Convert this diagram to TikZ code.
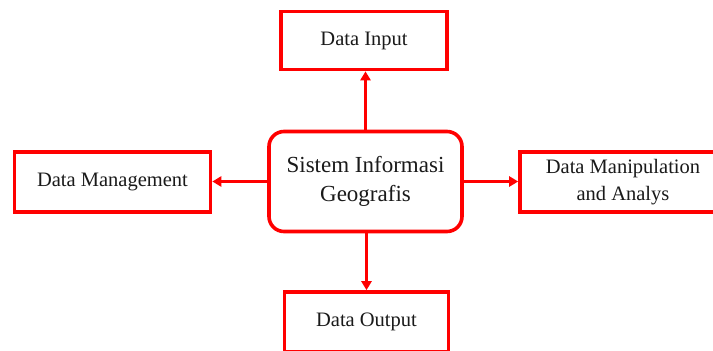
\documentclass[tikz,border=0pt]{standalone}
\usepackage{fontspec}
\setmainfont{Liberation Serif}
\usetikzlibrary{arrows.meta}
\definecolor{boxred}{HTML}{FF0000}
\definecolor{txt}{HTML}{1A1A1A}
\begin{document}
\begin{tikzpicture}[x=1pt,y=-1pt,
  sbox/.style={draw=boxred, line width=3.6pt, fill=white, text=txt, align=center, inner sep=0pt, font=\fontsize{20.5}{27}\selectfont},
  conn/.style={draw=boxred, line width=3pt, -{Triangle[length=9pt,width=10pt]}}]
\useasboundingbox (0,0) rectangle (713,351);
\begin{scope}
\clip (0,0) rectangle (713,351);
\node[sbox, minimum width=166pt, minimum height=58pt] (in) at (364,40.5) {Data Input};
\node[sbox, rounded corners=15pt, minimum width=193pt, minimum height=100pt, font=\fontsize{23}{29}\selectfont] (ctr) at (365.5,181.5) {Sistem Informasi\\Geografis};
\node[sbox, minimum width=196pt, minimum height=60pt] (mgmt) at (112.5,182) {Data Management};
\node[sbox, minimum width=206pt, minimum height=60pt] (manip) at (623,182) {Data Manipulation\\and Analys};
\node[sbox, minimum width=164pt, minimum height=60pt] (out) at (366.5,322) {Data Output};
\draw[conn] (ctr.north) -- (ctr.north |- in.south);
\draw[conn] (ctr.west) -- (ctr.west -| mgmt.east);
\draw[conn] (ctr.east) -- (ctr.east -| manip.west);
\draw[conn] (ctr.south -| out.north) -- (out.north);
\end{scope}
\end{tikzpicture}
\end{document}
